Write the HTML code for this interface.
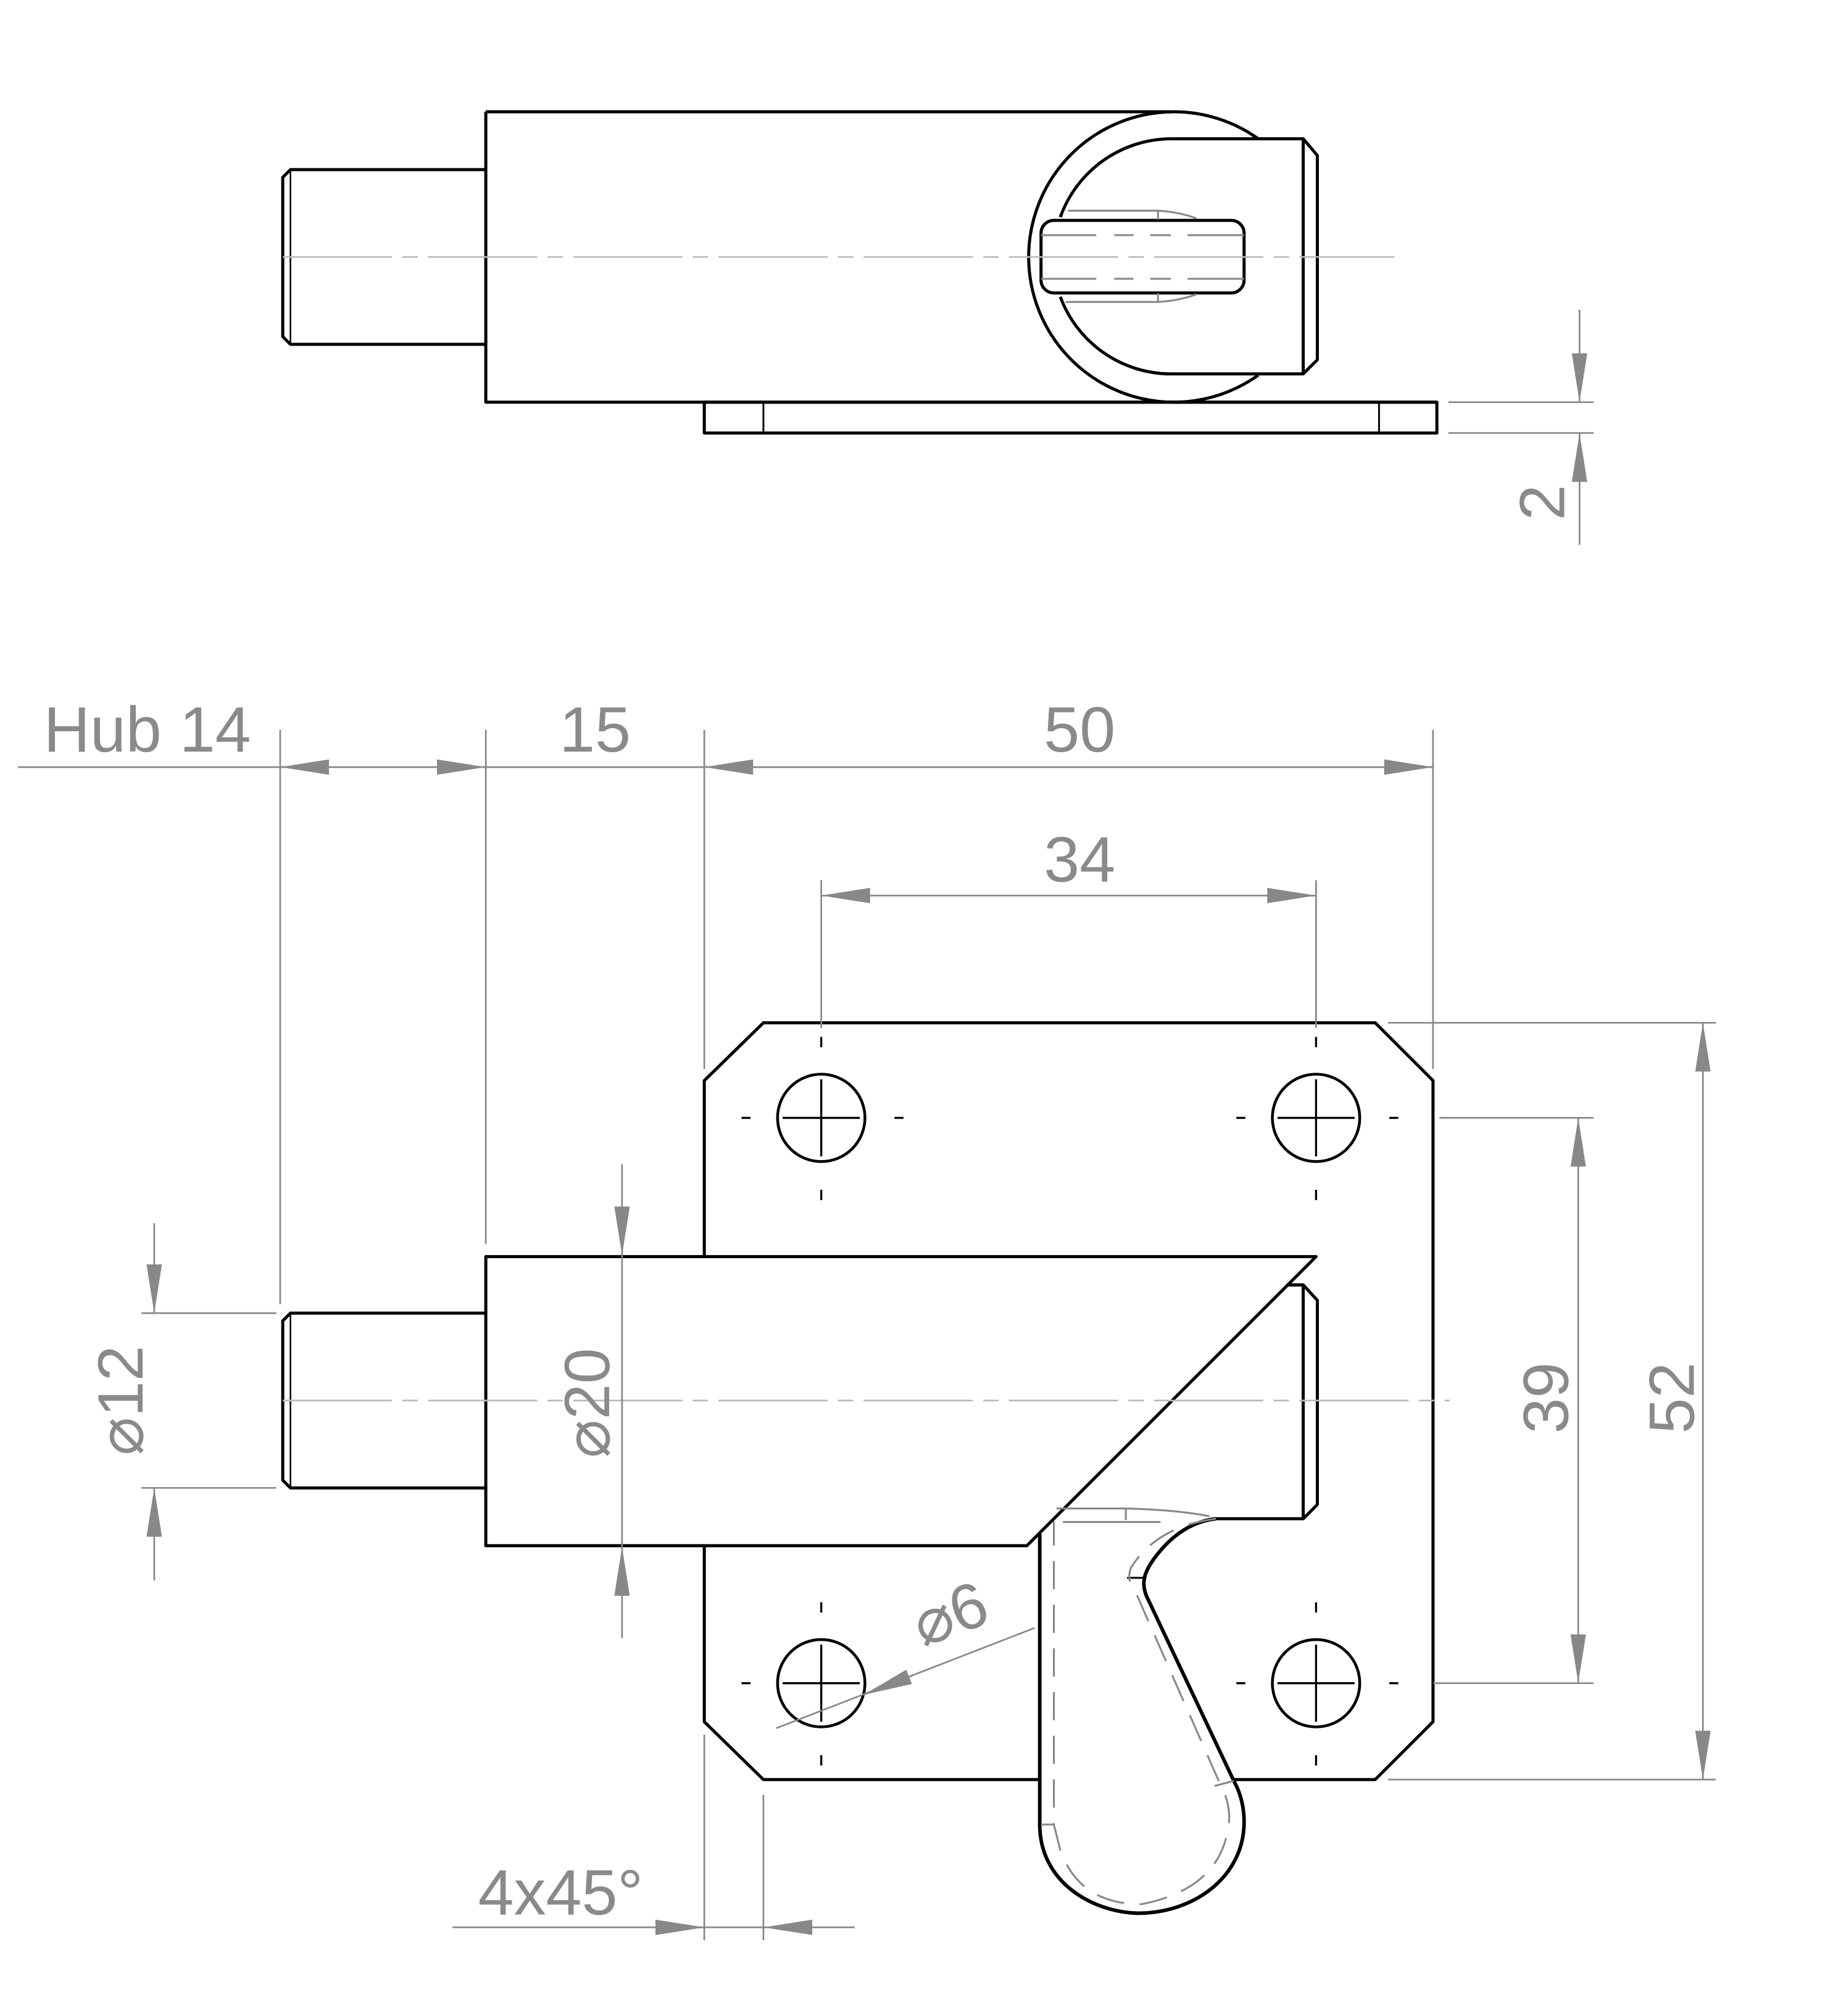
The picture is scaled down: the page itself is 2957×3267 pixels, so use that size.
<!DOCTYPE html>
<html><head><meta charset="utf-8"><style>
html,body{margin:0;padding:0;background:#fff}
svg{display:block}
text{font-family:"Liberation Sans","DejaVu Sans",sans-serif;fill:#8a8a8a}
</style></head><body>
<svg width="2957" height="3267" viewBox="0 0 1420 1569" preserveAspectRatio="none" xmlns="http://www.w3.org/2000/svg">
<defs>
<marker id="a" viewBox="0 0 38 12" markerWidth="38" markerHeight="12" refX="38" refY="6" orient="auto" markerUnits="userSpaceOnUse">
<path d="M0,0 L38,6 L0,12 z" fill="#888"/></marker>
</defs>
<rect width="1420" height="1569" fill="#fff"/>

<!-- ============ TOP VIEW ============ -->
<g fill="none" stroke="#000" stroke-width="2.4" stroke-linejoin="round">
<!-- plate -->
<rect x="548" y="313" width="570" height="24" fill="#fff"/>
<line x1="594" y1="313" x2="594" y2="337" stroke-width="1.4"/>
<line x1="1073" y1="313" x2="1073" y2="337" stroke-width="1.4"/>
<!-- pin -->
<path d="M378,132 L226,132 L220,138 L220,262 L226,268 L378,268" fill="#fff"/>
<line x1="226" y1="132" x2="226" y2="268" stroke-width="1.2"/>
<!-- body -->
<path d="M378,87 L911,87 M378,87 L378,313 L1118,313"/>
<!-- outer arc -->
<path d="M979,108 A113,113 0 1,0 979,292"/>
<!-- inner arc -->
<path d="M911,108 A92,92 0 0,0 825,169"/>
<path d="M825,231 A92,92 0 0,0 911,291"/>
<!-- block -->
<path d="M911,108 L1014,108 L1025,121 L1025,280 L1014,291 L911,291" fill="none"/>
<line x1="1014" y1="108" x2="1014" y2="291"/>
<!-- slot -->
<rect x="810" y="171.5" width="158" height="56.5" rx="10" ry="10" fill="#fff"/>
</g>
<g fill="none" stroke="#888" stroke-width="1.5">
<path d="M810,183 H968 M810,217 H968" stroke-dasharray="43,14,15,13,16,13,55"/>
<path d="M831,164 H901 Q918,165 931,170 M901,164 V171"/>
<path d="M829,235 H901 Q918,234 931,229 M901,235 V228"/>
</g>
<line x1="220" y1="200" x2="1085" y2="200" stroke="#bbb" stroke-width="1.3" stroke-dasharray="85,8,12,8"/>

<!-- dim 2 -->
<g stroke="#888" stroke-width="1.3" fill="none">
<line x1="1127" y1="313" x2="1240" y2="313"/>
<line x1="1127" y1="337" x2="1240" y2="337"/>
<line x1="1229" y1="241" x2="1229" y2="313" marker-end="url(#a)"/>
<line x1="1229" y1="424" x2="1229" y2="337" marker-end="url(#a)"/>
</g>
<text x="0" y="0" font-size="50" transform="translate(1217,405) rotate(-90)">2</text>

<!-- ============ FRONT VIEW ============ -->
<g fill="none" stroke="#000" stroke-width="2.4" stroke-linejoin="round">
<!-- plate -->
<path d="M594,796 L1070,796 L1115,841 L1115,1340 L1070,1385 L594,1385 L548,1340 L548,841 Z" fill="#fff"/>
</g>
<!-- holes -->
<g fill="#fff" stroke="#000" stroke-width="2.2">
<circle cx="639" cy="870" r="34"/><circle cx="1024" cy="870" r="34"/>
<circle cx="639" cy="1310" r="34"/><circle cx="1024" cy="1310" r="34"/>
</g>
<g stroke="#000" stroke-width="1.6" fill="none">
<path d="M609,870 H669 M639,840 V900 M994,870 H1054 M1024,840 V900 M609,1310 H669 M639,1280 V1340 M994,1310 H1054 M1024,1280 V1340"/>
<path d="M577,870 H584 M696,870 H703 M639,807 V815 M639,926 V934 M962,870 H969 M1081,870 H1088 M1024,807 V815 M1024,926 V934 M577,1310 H584 M696,1310 H703 M639,1247 V1255 M639,1366 V1374 M962,1310 H969 M1081,1310 H1088 M1024,1247 V1255 M1024,1366 V1374"/>
</g>

<g fill="none" stroke="#000" stroke-width="2.4" stroke-linejoin="round">
<!-- pin -->
<path d="M378,1022 L226,1022 L220,1028 L220,1152 L226,1158 L378,1158" fill="#fff"/>
<line x1="226" y1="1022" x2="226" y2="1158" stroke-width="1.2"/>
<!-- bolt inner part -->
<path d="M1001,1000 L1014,1000 L1025,1012 L1025,1171 L1014,1182 L946,1182" fill="#fff"/>
<line x1="1014" y1="1000" x2="1014" y2="1182"/>
<!-- body -->
<path d="M378,978 L1024,978 L799,1203 L378,1203 Z" fill="#fff"/>
</g>
<!-- inner bolt top edge peeking -->
<line x1="1001" y1="1000" x2="1014" y2="1000" stroke="#000" stroke-width="2.4"/>

<!-- lever -->
<path d="M809,1193 L809,1420 C809,1465 850,1488 885,1489 C930,1489 968,1460 968,1418 C968,1405 965,1395 960,1386 L892,1242 C888,1232 890,1224 898,1213 C912,1194 928,1184 946,1182 L809,1193 Z" fill="#fff" stroke="none"/>
<path d="M809,1193 L809,1420 C809,1465 850,1488 885,1489 C930,1489 968,1460 968,1418 C968,1405 965,1395 960,1386 L892,1242 C888,1232 890,1224 898,1213 C912,1194 928,1184 946,1182" fill="none" stroke="#000" stroke-width="2.8"/>
<line x1="877" y1="1228" x2="892" y2="1228" stroke="#000" stroke-width="1.5"/>
<g fill="none" stroke="#888" stroke-width="1.5">
<path d="M822,1174 H876 Q915,1175 941,1180"/>
<path d="M876,1174 V1183"/>
<path d="M827,1184.5 H903"/>
<path d="M946,1182 Q900,1188 880,1220 Q876,1230 884,1240 L950,1390 Q958,1405 956,1420 Q950,1470 888,1482 Q840,1482 825,1440 L820,1420 L820,1184" stroke-dasharray="22,12"/>
<path d="M810,1420 H820 M945,1390 L960,1386"/>
</g>

<!-- centre line -->
<line x1="220" y1="1090" x2="1128" y2="1090" stroke="#bbb" stroke-width="1.3" stroke-dasharray="85,8,12,8"/>

<!-- ============ DIMENSIONS ============ -->
<g stroke="#888" stroke-width="1.3" fill="none">
<!-- extension lines -->
<line x1="218" y1="568" x2="218" y2="1015"/>
<line x1="378" y1="568" x2="378" y2="968"/>
<line x1="548" y1="568" x2="548" y2="832"/>
<line x1="1115" y1="568" x2="1115" y2="832"/>
<line x1="639" y1="685" x2="639" y2="800"/>
<line x1="1024" y1="685" x2="1024" y2="800"/>
<line x1="1080" y1="796" x2="1335" y2="796"/>
<line x1="1080" y1="1385" x2="1335" y2="1385"/>
<line x1="1120" y1="870" x2="1240" y2="870"/>
<line x1="1115" y1="1310" x2="1240" y2="1310"/>
<line x1="110" y1="1022" x2="215" y2="1022"/>
<line x1="110" y1="1158" x2="215" y2="1158"/>
<line x1="548" y1="1350" x2="548" y2="1510"/>
<line x1="594" y1="1397" x2="594" y2="1510"/>
<!-- top dim line -->
<line x1="14" y1="597" x2="1115" y2="597"/>
<line x1="258" y1="597" x2="218" y2="597" marker-end="url(#a)"/>
<line x1="340" y1="597" x2="378" y2="597" marker-end="url(#a)"/>
<line x1="586" y1="597" x2="548" y2="597" marker-end="url(#a)"/>
<line x1="1077" y1="597" x2="1115" y2="597" marker-end="url(#a)"/>
<!-- 34 -->
<line x1="639" y1="697" x2="1024" y2="697"/>
<line x1="677" y1="697" x2="639" y2="697" marker-end="url(#a)"/>
<line x1="986" y1="697" x2="1024" y2="697" marker-end="url(#a)"/>
<!-- 52 -->
<line x1="1325" y1="796" x2="1325" y2="1385"/>
<line x1="1325" y1="834" x2="1325" y2="796" marker-end="url(#a)"/>
<line x1="1325" y1="1347" x2="1325" y2="1385" marker-end="url(#a)"/>
<!-- 39 -->
<line x1="1228" y1="870" x2="1228" y2="1310"/>
<line x1="1228" y1="908" x2="1228" y2="870" marker-end="url(#a)"/>
<line x1="1228" y1="1272" x2="1228" y2="1310" marker-end="url(#a)"/>
<!-- d12 -->
<line x1="120" y1="952" x2="120" y2="1022" marker-end="url(#a)"/>
<line x1="120" y1="1230" x2="120" y2="1158" marker-end="url(#a)"/>
<!-- d20 -->
<line x1="484" y1="906" x2="484" y2="1275"/>
<line x1="484" y1="939" x2="484" y2="977" marker-end="url(#a)"/>
<line x1="484" y1="1242" x2="484" y2="1204" marker-end="url(#a)"/>
<!-- d6 -->
<line x1="604" y1="1345" x2="805" y2="1267"/>
<line x1="710" y1="1304" x2="672" y2="1319" marker-end="url(#a)"/>
<!-- 4x45 -->
<line x1="352" y1="1500" x2="665" y2="1500"/>
<line x1="510" y1="1500" x2="548" y2="1500" marker-end="url(#a)"/>
<line x1="632" y1="1500" x2="594" y2="1500" marker-end="url(#a)"/>
</g>

<g font-size="50">
<text x="34" y="585">Hub 14</text>
<text x="463" y="585" text-anchor="middle">15</text>
<text x="840" y="585" text-anchor="middle">50</text>
<text x="840" y="686" text-anchor="middle">34</text>
<text x="372" y="1490">4x45°</text>
<text transform="translate(1318,1088) rotate(-90)" text-anchor="middle">52</text>
<text transform="translate(1220,1088) rotate(-90)" text-anchor="middle">39</text>
<text transform="translate(111,1090) rotate(-90)" text-anchor="middle"><tspan font-family="DejaVu Sans">⌀</tspan>12</text>
<text transform="translate(474,1092) rotate(-90)" text-anchor="middle"><tspan font-family="DejaVu Sans">⌀</tspan>20</text>
<text transform="translate(745,1272) rotate(-20)" text-anchor="middle"><tspan font-family="DejaVu Sans">⌀</tspan>6</text>
</g>
</svg>
</body></html>
